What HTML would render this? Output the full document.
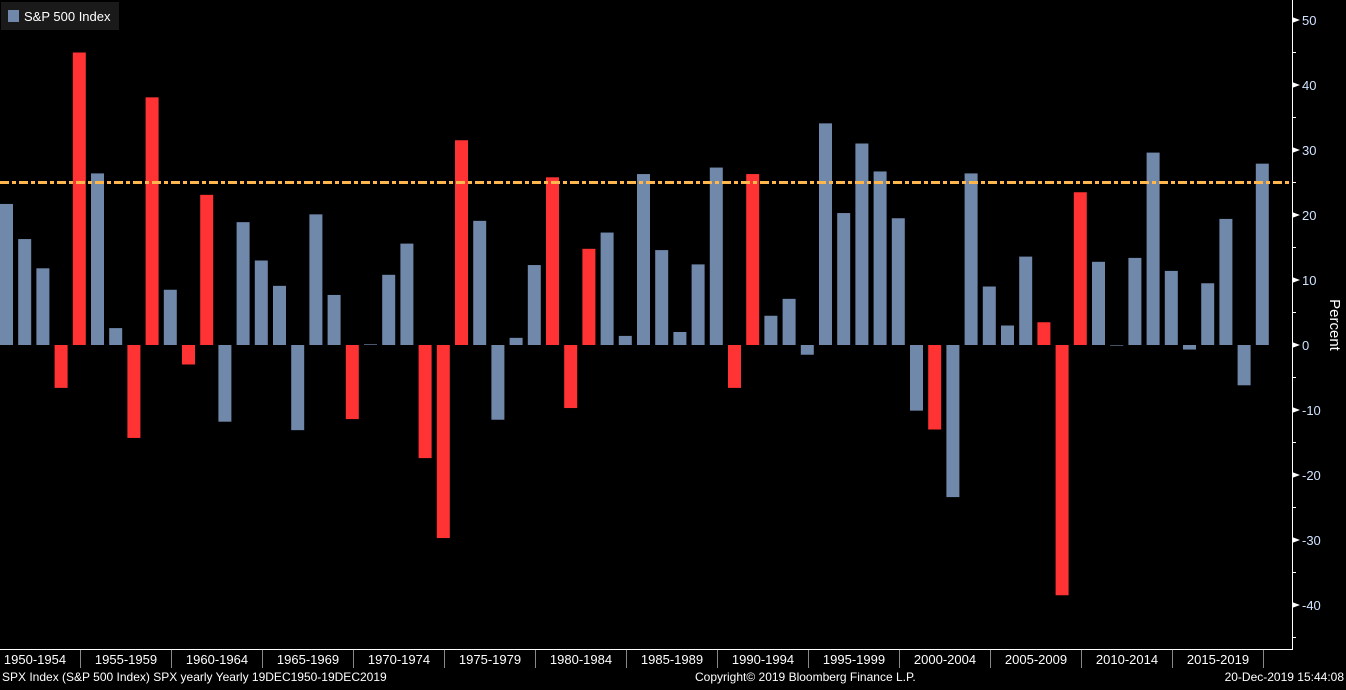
<!DOCTYPE html>
<html><head><meta charset="utf-8"><style>
body{margin:0;background:#000;width:1346px;height:685px;overflow:hidden;font-family:"Liberation Sans",sans-serif}
svg text{font-family:"Liberation Sans",sans-serif}
</style></head><body>
<svg id="c" width="1346" height="685"></svg>
<script>
const years=[];for(let y=1950;y<=2019;y++)years.push(y);
const values=[21.7,16.3,11.8,-6.6,45.0,26.4,2.6,-14.3,38.1,8.5,-3.0,23.1,-11.8,18.9,13.0,9.1,-13.1,20.1,7.7,-11.4,0.1,10.8,15.6,-17.4,-29.7,31.5,19.1,-11.5,1.1,12.3,25.8,-9.7,14.8,17.3,1.4,26.3,14.6,2.0,12.4,27.3,-6.6,26.3,4.5,7.1,-1.5,34.1,20.3,31.0,26.7,19.5,-10.1,-13.0,-23.4,26.4,9.0,3.0,13.6,3.5,-38.5,23.5,12.8,0.0,13.4,29.6,11.4,-0.7,9.5,19.4,-6.2,27.9];
const redYears=[1953,1954,1957,1958,1960,1961,1969,1973,1974,1975,1980,1981,1982,1990,1991,2001,2007,2008,2009];
const yTicks=[50,40,30,20,10,0,-10,-20,-30,-40];
const groupLabels=["1950-1954","1955-1959","1960-1964","1965-1969","1970-1974","1975-1979","1980-1984","1985-1989","1990-1994","1995-1999","2000-2004","2005-2009","2010-2014","2015-2019"];
const refLevel=25;
const NS="http://www.w3.org/2000/svg";
const svg=document.getElementById('c');
function y(v){return 345-v*6.5;}
function x(i){return i*18.2;}
function el(t,a,p){const e=document.createElementNS(NS,t);for(const k in a)e.setAttribute(k,a[k]);(p||svg).appendChild(e);return e;}
years.forEach((yr,i)=>{const v=values[i];
 const r=el('rect',{x:x(i),y:Math.min(y(v),y(0)),width:13,height:Math.max(Math.abs(y(v)-y(0)),0.6),fill:redYears.includes(yr)?'#ff3333':'#7088a9'});
 
 });
const rl=el('line',{x1:0,x2:1292,y1:y(refLevel),y2:y(refLevel),stroke:'#ffb74d','stroke-width':3,'stroke-dasharray':'9,3,4,3'});

const ax=el('line',{x1:1292.5,x2:1292.5,y1:0,y2:650,stroke:'#fff','stroke-width':1});

for(let v=-45;v<=50;v+=5){el('line',{x1:1292,x2:1296,y1:y(v),y2:y(v),stroke:'#fff'});}
yTicks.forEach(v=>{el('polygon',{points:`1292,${y(v)-3} 1300,${y(v)} 1292,${y(v)+3}`,fill:'#fff'});
 const t=el('text',{x:1302,y:y(v)+5,fill:'#cfe3ff','font-size':13});t.textContent=v;
 });
const pl=el('text',{x:0,y:0,fill:'#fff','font-size':15,transform:'translate(1330,325) rotate(90)','text-anchor':'middle'});pl.textContent='Percent';

el('line',{x1:0,x2:1292,y1:649.5,y2:649.5,stroke:'#fff'});
groupLabels.forEach((g,i)=>{const sx=80+91*i;el('line',{x1:sx+.5,x2:sx+.5,y1:650,y2:668,stroke:'#888'});
 const t=el('text',{x:sx-45,y:664,fill:'#fff','font-size':13,'text-anchor':'middle'});t.textContent=g;
 });
const lg=el('g',{});
el('rect',{x:1,y:2,width:118,height:28,fill:'#1a1a1a'},lg);
el('rect',{x:8,y:10,width:11,height:12,fill:'#7088a9'},lg);
const lt=el('text',{x:24,y:21,fill:'#fff','font-size':13},lg);lt.textContent='S&P 500 Index';
const f1=el('text',{x:2,y:681,fill:'#fff','font-size':12});f1.textContent='SPX Index (S&P 500 Index) SPX yearly  Yearly 19DEC1950-19DEC2019';

const f2=el('text',{x:695,y:681,fill:'#fff','font-size':12});f2.textContent='Copyright© 2019 Bloomberg Finance L.P.';

const f3=el('text',{x:1344,y:681,fill:'#fff','font-size':12,'text-anchor':'end'});f3.textContent='20-Dec-2019 15:44:08';

</script></body></html>
